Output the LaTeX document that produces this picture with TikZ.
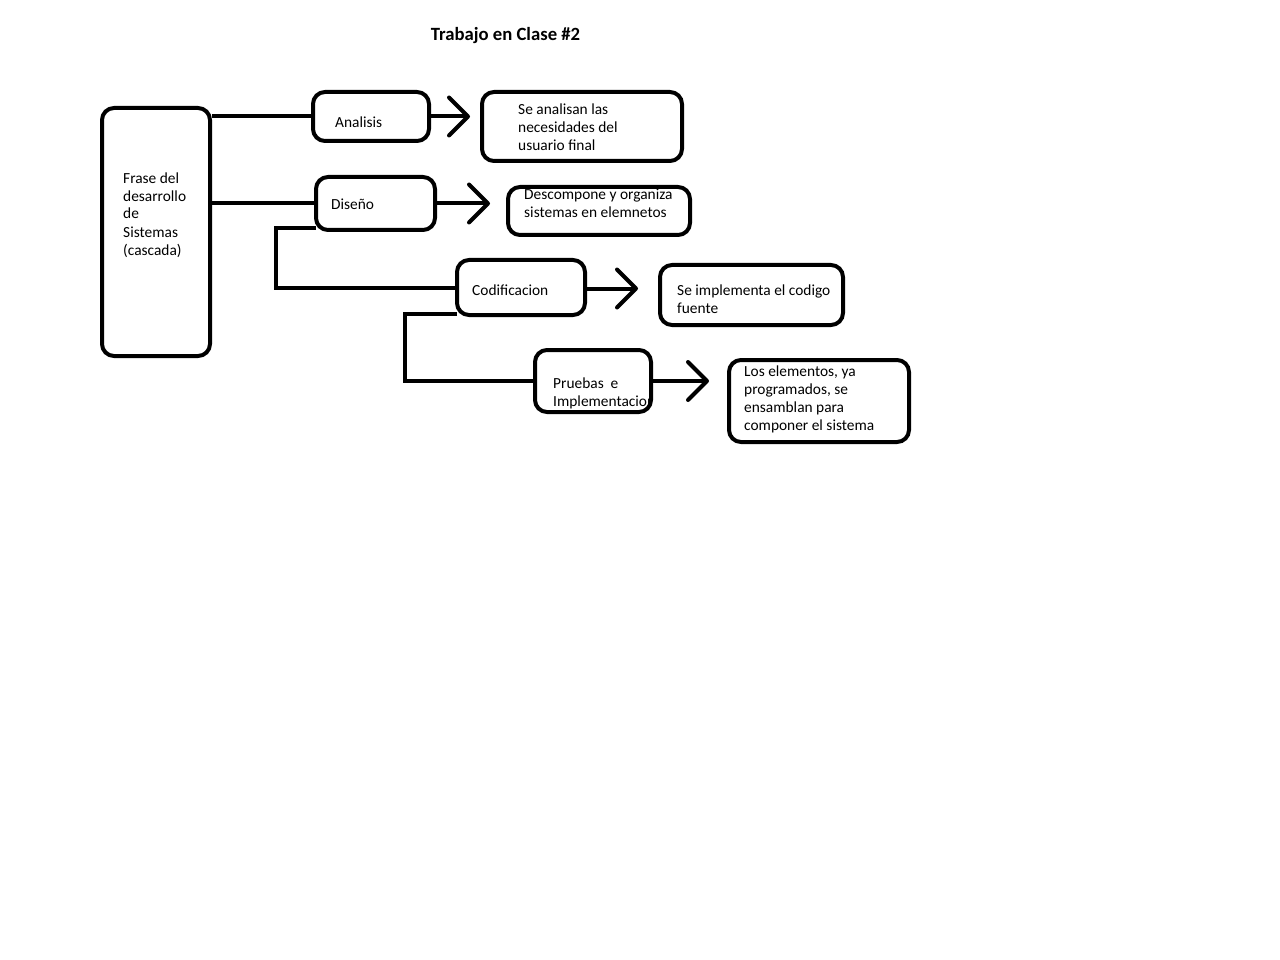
\documentclass[tikz,border=0pt]{standalone}
\usepackage{fontspec}
\setmainfont{Carlito}
\usetikzlibrary{arrows.meta}
\begin{document}
\begin{tikzpicture}[x=1pt,y=-1pt,
  box/.style={draw, line width=4pt, rounded corners=12pt, inner sep=0pt},
  % multi-line texts are placed by the baseline of their last line
  txt/.style={anchor=base west, align=left, inner sep=0pt,
    font=\fontsize{15.4}{18}\selectfont},
  wire/.style={line width=4pt},
  arr/.style={line width=4pt, line cap=round,
    -{Straight Barb[length=19pt,width=38pt,line cap=round,line join=round]}}]
\useasboundingbox[fill=white] (0,0) rectangle (1280,960);

% title
\node[anchor=base, inner sep=0pt, font=\fontsize{18.7}{22}\selectfont\bfseries]
  (title) at (505.5,41) {Trabajo en Clase \#2};

% boxes
\node[box, minimum width=108, minimum height=248] (frase) at (156,232) {};
\node[box, minimum width=116, minimum height=49]  (ana)   at (371,116.5) {};
\node[box, minimum width=200, minimum height=69]  (anad)  at (582,126.5) {};
\node[box, minimum width=119, minimum height=53]  (dis)   at (375.5,203.5) {};
\node[box, minimum width=182, minimum height=48]  (disd)  at (599,211) {};
\node[box, minimum width=128, minimum height=55]  (cod)   at (521,287.5) {};
\node[box, minimum width=183, minimum height=60]  (codd)  at (751.5,295) {};
\node[box, minimum width=116, minimum height=62]  (pru)   at (593,381) {};
\node[box, minimum width=180, minimum height=82]  (prud)  at (819,401) {};

% texts
\node[txt] (frasetxt) at (123,255) {Frase del\\desarrollo\\de\\Sistemas\\(cascada)};
\node[txt] (anatxt)  at (335,128) {Analisis};
\node[txt] (anadtxt) at (518,151) {Se analisan las\\necesidades del\\usuario final};
\node[txt] (distxt)  at (331,210) {Diseño};
\node[txt] (disdtxt) at (524,218) {Descompone y organiza\\sistemas en elemnetos};
\node[txt] (codtxt)  at (472,295) {Codificacion};
\node[txt] (coddtxt) at (677,313) {Se implementa el codigo\\fuente};
\begin{scope}
  \clip (530,340) rectangle (650,420);
  \node[txt] (prutxt) at (553,406) {Pruebas\ \ e\\Implementacion};
\end{scope}
\node[txt] (prudtxt) at (744,430) {Los elementos, ya\\programados, se\\ensamblan para\\componer el sistema};

% arrow tips
\coordinate (anatip) at (470,116.5);
\coordinate (distip) at (490,203.5);
\coordinate (codtip) at (638,288.5);
\coordinate (prutip) at (709,381);

% connectors
\draw[wire] (ana.west -| frase.east) -- (ana.west);
\draw[wire] (dis.west -| frase.east) -- (dis.west);
\draw[wire] ([xshift=2pt,yshift=4pt]dis.south west) -- ++(-40,0) |- (cod.west);
\draw[wire] ([xshift=2pt,yshift=3pt]cod.south west) -- ++(-52,0) |- (pru.west);

\draw[arr] (ana.east) -- (anatip);
\draw[arr] (dis.east) -- (distip);
\draw[arr] (cod.east |- codtip) -- (codtip);
\draw[arr] (pru.east) -- (prutip);
\end{tikzpicture}
\end{document}
